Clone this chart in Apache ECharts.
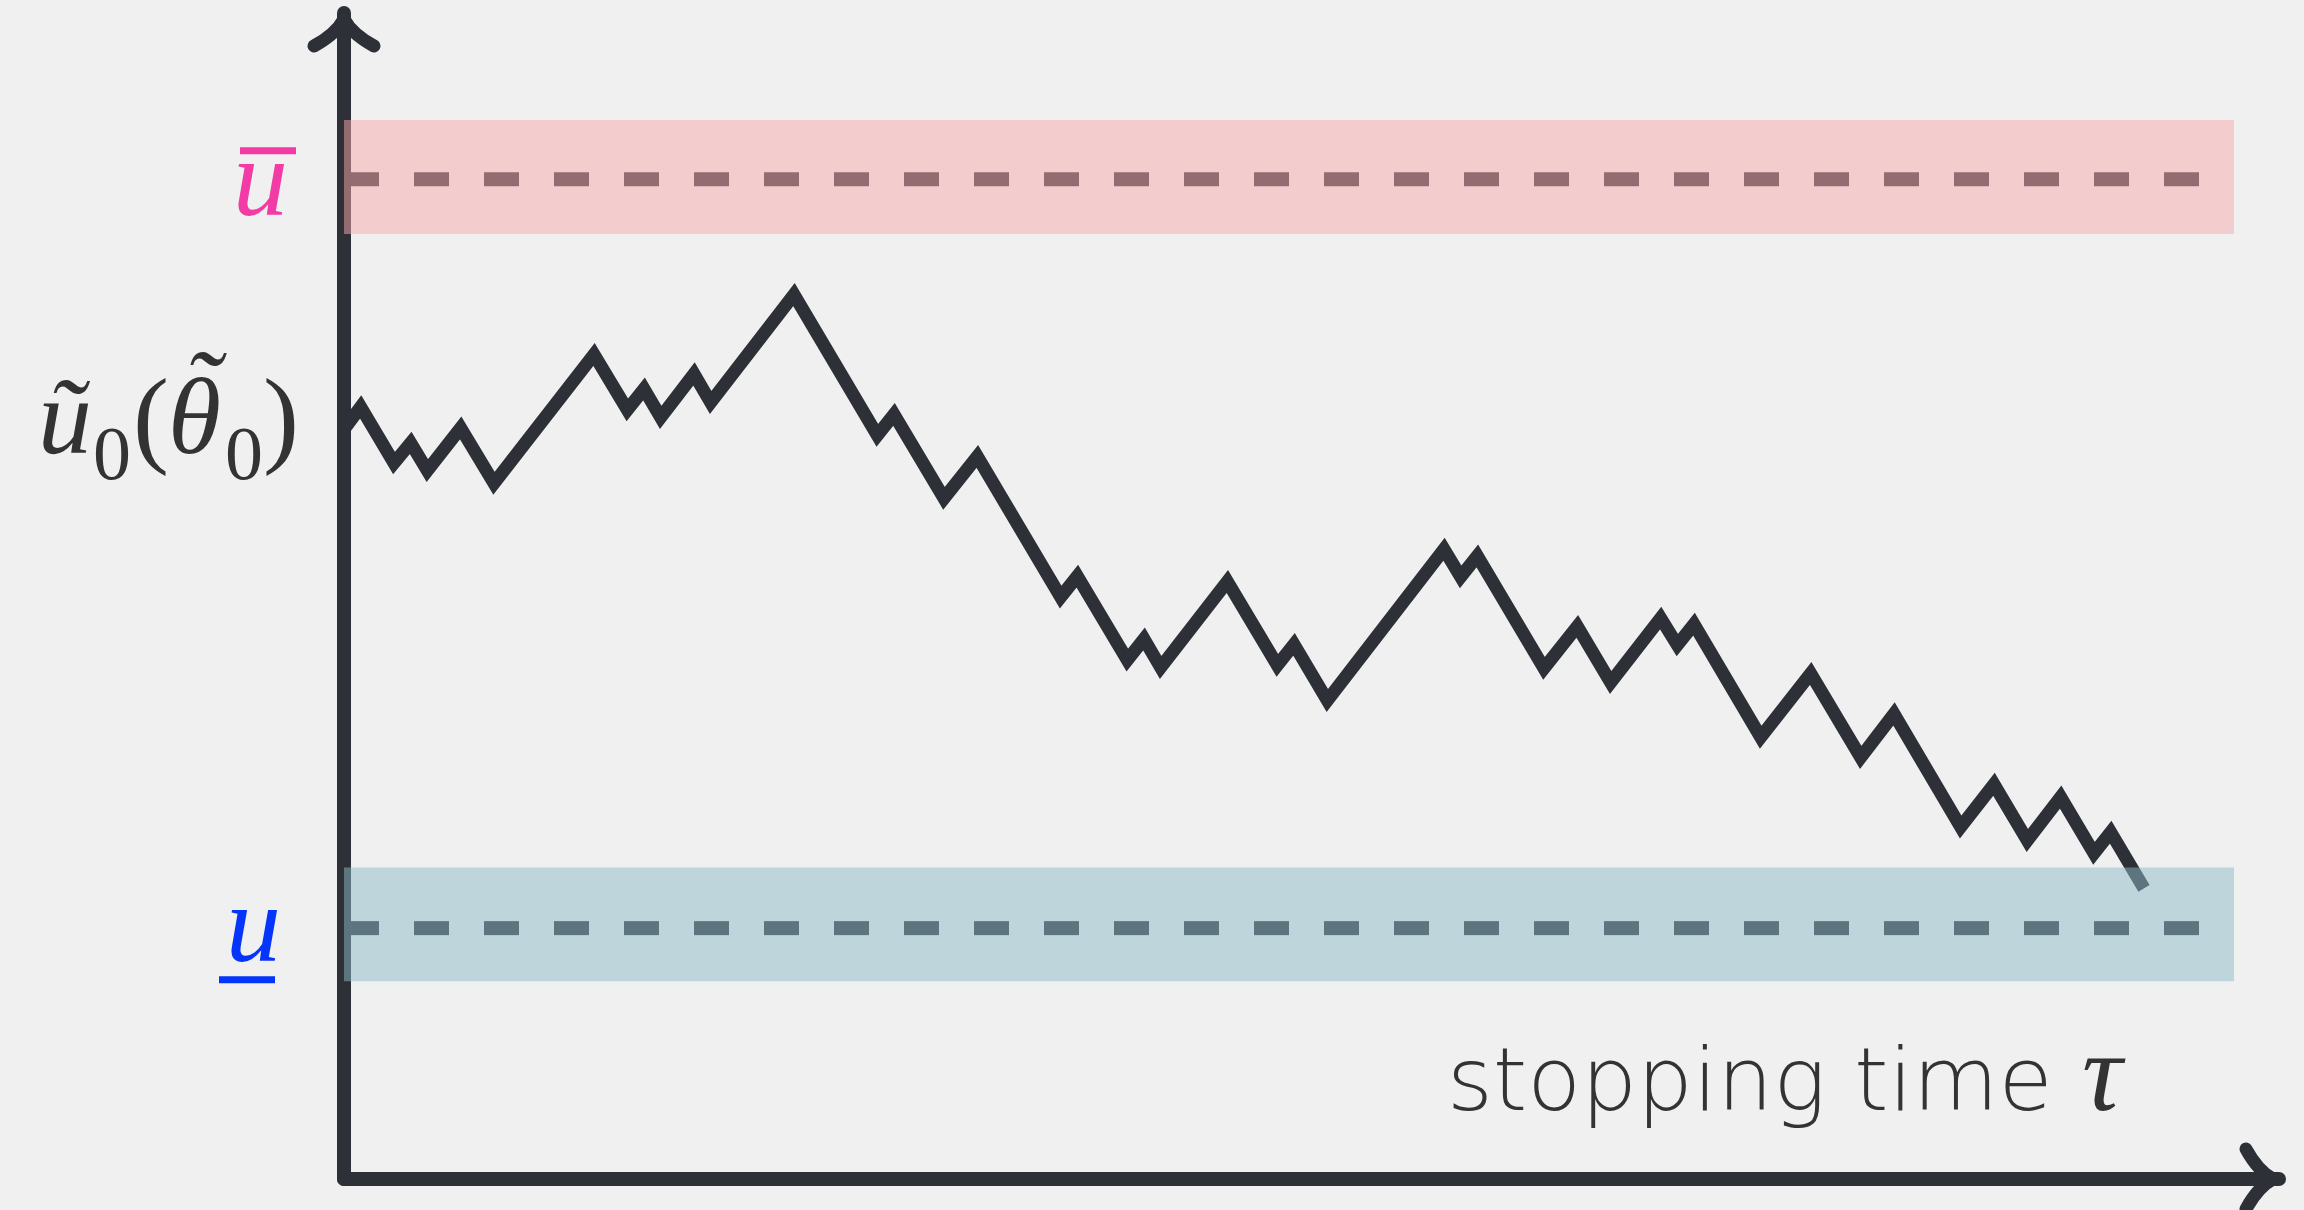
<!DOCTYPE html>
<html><head><meta charset="utf-8">
<script src="https://cdn.jsdelivr.net/npm/echarts@6/dist/echarts.min.js"></script>
<style>html,body{margin:0;padding:0;background:#f0f0f0;} #c{width:2304px;height:1210px;}</style>
</head><body><div id="c"></div>
<script>
// sample path of the process (time in steps, utility level)
const pathTime = [0,1,3,4,5,7,9,15,17,18,19,21,22,27,32,33,36,38,43,44,47,48,49,53,56,57,59,66,67,68,72,74,76,79,80,81,85,88,91,93,97,99,101,103,105,106,108];
const pathUtility = [66.6,69.6,62.1,64.8,61.1,66.8,59.4,76.6,69.2,72.0,68.2,74.0,70.2,84.6,65.8,68.6,57.4,63.0,44.2,47.0,35.8,38.6,34.8,46.3,35.1,37.9,30.4,50.6,46.9,49.7,34.7,40.3,32.8,41.4,37.8,40.6,25.5,34.0,22.8,28.6,13.5,19.2,11.7,17.5,10.0,12.8,5.3];
// thresholds
const upperLevel = 100;      // ū
const lowerLevel = 0;        // u̲
const upperBand = [92.7, 107.9];
const lowerBand = [-7.1, 8.1];
const bandEnd = 113.4;
// axis ranges
const xRange = [0, 116.1];
const yRange = [-33.5, 122.2];
// labels
const xLabel = 'stopping time';
const xSymbol = 'τ';

const DARK = '#2e3038';
const chart = echarts.init(document.getElementById('c'), null, {renderer: 'canvas'});

const pathData = pathTime.map((t, i) => [t, pathUtility[i]]);

chart.setOption({
  backgroundColor: '#f0f0f0',
  animation: false,
  grid: {left: 344, right: 25, top: 13, bottom: 31, containLabel: false},
  xAxis: {
    type: 'value', min: xRange[0], max: xRange[1],
    axisLine: {show: true, onZero: false, lineStyle: {color: DARK, width: 14}},
    axisTick: {show: false}, axisLabel: {show: false}, splitLine: {show: false}
  },
  yAxis: {
    type: 'value', min: yRange[0], max: yRange[1],
    axisLine: {show: true, onZero: false, lineStyle: {color: DARK, width: 14}},
    axisTick: {show: false}, axisLabel: {show: false}, splitLine: {show: false}
  },
  series: [
    {
      type: 'line', data: pathData, symbol: 'none', z: 2, silent: true,
      lineStyle: {color: DARK, width: 13, cap: 'butt', join: 'miter', miterLimit: 10}
    },
    {
      type: 'line', data: [[0, upperLevel], [bandEnd, upperLevel]], symbol: 'none', z: 3, silent: true,
      lineStyle: {color: DARK, width: 14, type: [35, 35], cap: 'butt'},
      markArea: {silent: true, z: 10, itemStyle: {color: 'rgba(246,167,169,0.5)'},
        data: [[{coord: [0, upperBand[0]]}, {coord: [bandEnd, upperBand[1]]}]]}
    },
    {
      type: 'line', data: [[0, lowerLevel], [bandEnd, lowerLevel]], symbol: 'none', z: 3, silent: true,
      lineStyle: {color: DARK, width: 14, type: [35, 35], cap: 'butt'},
      markArea: {silent: true, z: 10, itemStyle: {color: 'rgba(140,186,198,0.5)'},
        data: [[{coord: [0, lowerBand[0]]}, {coord: [bandEnd, lowerBand[1]]}]]}
    }
  ]
});

function px(x, y) { return chart.convertToPixel({gridIndex: 0}, [x, y]); }
function txt(str, x, baseline, size, opts) {
  opts = opts || {};
  const fam = opts.family || "'Liberation Serif', 'Times New Roman', serif";
  return {type: 'text', x: x, y: baseline - 0.25 * size, z: 30, silent: true,
    style: {text: str, fontFamily: fam, fontSize: size, fontStyle: opts.italic ? 'italic' : 'normal',
      fontWeight: opts.weight || 'normal', fill: opts.color || '#333333', align: 'left', verticalAlign: 'middle'}};
}

const origin = px(xRange[0], yRange[0]);
const yTip = px(xRange[0], yRange[1]);
const xTip = px(xRange[1], yRange[0]);
const yU = px(0, upperLevel)[1];
const yL = px(0, lowerLevel)[1];
const yS = px(pathTime[0], pathUtility[0])[1];

const wing = (x1, y1, cx, cy, x2, y2) => ({type: 'bezierCurve', z: 30, silent: true,
  shape: {x1: x1, y1: y1, cpx1: cx, cpy1: cy, x2: x2, y2: y2},
  style: {stroke: DARK, lineWidth: 13, lineCap: 'round', fill: null}});

const g = [];
// y arrow head
const tx = yTip[0], ty = yTip[1];
g.push(wing(tx, ty + 6, tx - 8, ty + 21, tx - 30, ty + 33));
g.push(wing(tx, ty + 6, tx + 8, ty + 21, tx + 30, ty + 33));
// x arrow head
const ax = xTip[0], ay = xTip[1];
g.push(wing(ax - 6, ay, ax - 21, ay - 8, ax - 33, ay - 30));
g.push(wing(ax - 6, ay, ax - 21, ay + 8, ax - 33, ay + 30));

// ū label
g.push(txt('u', 233, yU + 34, 110, {italic: true, color: '#f33ba6'}));
g.push({type: 'rect', z: 30, silent: true, shape: {x: 240, y: yU - 32, width: 56, height: 7}, style: {fill: '#f33ba6'}});
// u̲ label
g.push(txt('u', 226, yL + 31, 110, {italic: true, color: '#0534fa'}));
g.push({type: 'rect', z: 30, silent: true, shape: {x: 219, y: yL + 48, width: 56, height: 7}, style: {fill: '#0534fa'}});
// ũ0(θ̃0) label
const b = yS + 22, sb = yS + 49;
g.push(txt('ũ', 38, b, 108, {italic: true}));
g.push(txt('0', 93, sb, 76));
g.push(txt('(', 133, b, 108));
g.push(txt('θ', 168, b, 108, {italic: true}));
g.push(txt('˜', 184, b - 28, 108, {italic: true}));
g.push(txt('0', 225, sb, 76));
g.push(txt(')', 263, b, 108));

// x label
g.push(txt(xLabel, 1447, origin[1] - 70, 88, {family: "'DejaVu Sans', sans-serif", weight: 200, color: '#333333'}));
g.push(txt(xSymbol, 2082, origin[1] - 70, 112, {italic: true, color: '#333333'}));

chart.setOption({graphic: g});
</script></body></html>
